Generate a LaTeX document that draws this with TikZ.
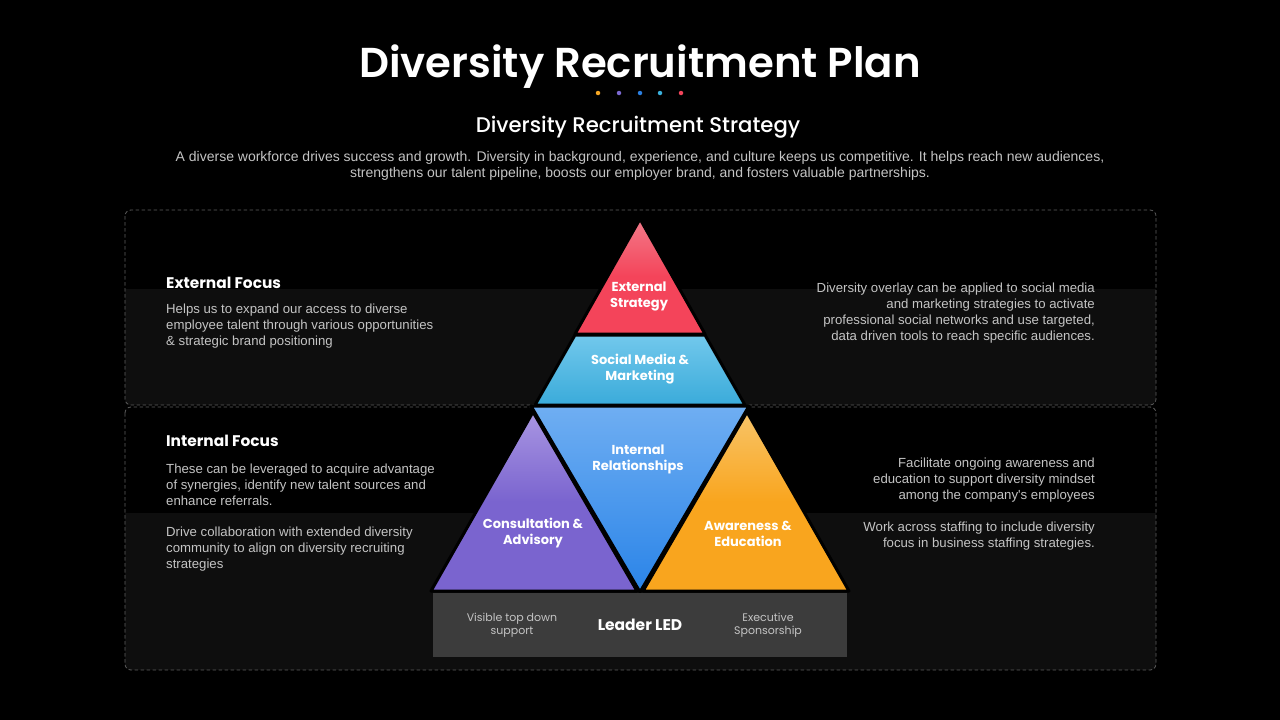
\documentclass[tikz,border=0pt]{standalone}
\usepackage{fontspec}
\setmainfont{Poppins}
\newfontfamily\popsb{Poppins SemiBold}
\newfontfamily\popmd{Poppins Medium}
\newfontfamily\arial{Liberation Sans}
\definecolor{bandgray}{HTML}{0E0E0E}
\definecolor{dashgray}{HTML}{5E5E5E}
\definecolor{bodygray}{HTML}{C4C4C4}
\definecolor{redtop}{HTML}{F27A89}
\definecolor{redbot}{HTML}{F4445A}
\definecolor{cyantop}{HTML}{72C8EC}
\definecolor{cyanbot}{HTML}{3AABDA}
\definecolor{bluetop}{HTML}{6FAEF2}
\definecolor{bluebot}{HTML}{2A84E8}
\definecolor{purtop}{HTML}{A996E2}
\definecolor{purbot}{HTML}{7A64CF}
\definecolor{orgtop}{HTML}{F8C468}
\definecolor{orgbot}{HTML}{F9A51E}
\definecolor{leadgray}{HTML}{3C3C3C}
\definecolor{dotorange}{HTML}{F5A623}
\definecolor{dotpurple}{HTML}{7B68D0}
\definecolor{dotblue}{HTML}{2B7FE0}
\definecolor{dotcyan}{HTML}{3AB0DC}
\definecolor{dotred}{HTML}{F2445A}
\tikzset{
  panelborder/.style={draw=dashgray, line width=0.8pt, dash pattern=on 3.5pt off 2.5pt, rounded corners=6pt},
  outline/.style={draw=black, line width=3pt, line join=round},
  body/.style={inner sep=0pt, text=bodygray, font=\arial\fontsize{13.2}{16}\selectfont},
  heading/.style={inner sep=0pt, text=white, font=\bfseries\fontsize{15.4}{18}\selectfont, anchor=west},
  tlabel/.style={inner sep=0pt, text=white, align=center, font=\bfseries\fontsize{13}{16}\selectfont},
  leadsmall/.style={inner sep=0pt, text=bodygray, align=center, font=\fontsize{11}{13}\selectfont},
  dotmark/.style={circle, inner sep=0pt, minimum size=4.5pt}
}
\begin{document}
\begin{tikzpicture}[x=1pt,y=-1pt]
\useasboundingbox (0,0) rectangle (1280,720);
\fill[black] (0,0) rectangle (1280,720);

% title
\node[inner sep=0pt, text=white, font=\popsb\fontsize{41.8}{48}\selectfont] (title) at (640,67) {Diversity Recruitment Plan};
\node[dotmark, fill=dotorange] (d1) at (598,93) {};
\node[dotmark, fill=dotpurple] (d2) at (619,93) {};
\node[dotmark, fill=dotblue] (d3) at (640,93) {};
\node[dotmark, fill=dotcyan] (d4) at (660,93) {};
\node[dotmark, fill=dotred] (d5) at (681,93) {};
\node[inner sep=0pt, text=white, font=\popmd\fontsize{21.2}{25}\selectfont] (sub) at (638,127) {Diversity Recruitment Strategy};
\node[body, align=center, font=\arial\fontsize{14}{16}\selectfont, text=bodygray] (intro) at (640,166)
  {A diverse workforce drives success and growth. Diversity in background, experience, and culture keeps us competitive. It helps reach new audiences,\\
   strengthens our talent pipeline, boosts our employer brand, and fosters valuable partnerships.};

% panels
\begin{scope}
\clip[rounded corners=6pt] (125,210) rectangle (1156,405);
\fill[bandgray] (125,289) rectangle (1156,405);
\end{scope}
\draw[panelborder] (125,210) rectangle (1156,405);
\begin{scope}
\clip[rounded corners=6pt] (125,407) rectangle (1156,670);
\fill[bandgray] (125,513) rectangle (1156,670);
\end{scope}
\draw[panelborder] (125,407) rectangle (1156,670);

% left texts
\node[heading] (extH) at (166,283) {External Focus};
\node[body, anchor=west, align=left] (extT) at (166,326)
  {Helps us to expand our access to diverse\\employee talent through various opportunities\\\& strategic brand positioning};
\node[heading] (intH) at (166,441) {Internal Focus};
\node[body, anchor=west, align=left] (intT1) at (166,485)
  {These can be leveraged to acquire advantage\\of synergies, identify new talent sources and\\enhance referrals.};
\node[body, anchor=west, align=left] (intT2) at (166,549)
  {Drive collaboration with extended diversity\\community to align on diversity recruiting\\strategies};

% right texts
\node[body, anchor=east, align=right] (r1) at (1095,313)
  {Diversity overlay can be applied to social media\\and marketing strategies to activate\\professional social networks and use targeted,\\data driven tools to reach specific audiences.};
\node[body, anchor=east, align=right] (r2) at (1095,480)
  {Facilitate ongoing awareness and\\education to support diversity mindset\\among the company's employees};
\node[body, anchor=east, align=right] (r3) at (1095,536)
  {Work across staffing to include diversity\\focus in business staffing strategies.};

% pyramid fills
\shade[top color=redtop, bottom color=redbot, middle color=redbot] (640,219) -- (705,334) -- (575,334) -- cycle;
\shade[top color=cyantop, bottom color=cyanbot] (575,335) -- (705,335) -- (745,405) -- (535,405) -- cycle;
\shade[top color=bluetop, bottom color=bluebot] (531,406) -- (749,406) -- (640,592) -- cycle;
\shade[top color=purtop, bottom color=purbot, middle color=purbot] (533,412) -- (637,591) -- (431,591) -- cycle;
\shade[top color=orgtop, bottom color=orgbot, middle color=orgbot] (747,412) -- (849,591) -- (643,591) -- cycle;
% pyramid outlines
\draw[outline] (640,219) -- (705,334) -- (575,334) -- cycle;
\draw[outline] (575,335) -- (705,335) -- (745,405) -- (535,405) -- cycle;
\draw[outline] (531,406) -- (749,406) -- (640,592) -- cycle;
\draw[outline] (533,412) -- (637,591) -- (431,591) -- cycle;
\draw[outline] (747,412) -- (849,591) -- (643,591) -- cycle;

% base bar
\fill[leadgray] (433,593) rectangle (847,657);

% pyramid labels
\node[tlabel] (lext) at (639,296.5) {External\\Strategy};
\node[tlabel] (lsoc) at (640,369.5) {Social Media \&\\Marketing};
\node[tlabel] (lint) at (638,459.5) {Internal\\Relationships};
\node[tlabel] (lcon) at (533,533.5) {Consultation \&\\Advisory};
\node[tlabel] (lawa) at (748,533.5) {Awareness \&\\Education};
\node[inner sep=0pt, text=white, font=\bfseries\fontsize{15.5}{18}\selectfont] (lead) at (640,625) {Leader LED};
\node[leadsmall] (vis) at (512,625) {Visible top down\\support};
\node[leadsmall] (exe) at (768,625) {Executive\\Sponsorship};
\end{tikzpicture}
\end{document}
